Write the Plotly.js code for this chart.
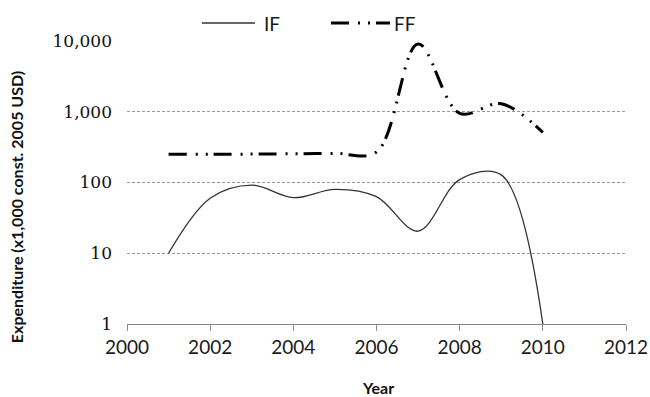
<!DOCTYPE html>
<html>
<head>
<meta charset="utf-8">
<script src="https://cdn.plot.ly/plotly-3.0.1.min.js"></script>
<style>html,body{margin:0;padding:0;background:#fff;}#chart{width:650px;height:397px;}</style>
</head>
<body>
<div id="chart"></div>
<script>
// ---- data ----
var years = [2001, 2002, 2003, 2004, 2005, 2006, 2007, 2008, 2009, 2010];
var ifValues = [10, 60, 92, 61, 80, 63, 20.5, 110, 128, 1];
var ffValues = [250, 250, 252, 255, 258, 270, 9100, 950, 1300, 510];
var seriesNames = ["IF", "FF"];
var yTickVals = [1, 10, 100, 1000, 10000];
var yTickText = ["1", "10", "100", "1,000", "10,000"];
var xTickVals = [2000, 2002, 2004, 2006, 2008, 2010, 2012];
var xTitle = "Year";
var yTitle = "Expenditure (x1,000 const. 2005 USD)";

var ffDash = "18px,9px,2px,8px,2px,6px";

var traces = [
  {x: years, y: ifValues, name: seriesNames[0], type: "scatter", mode: "lines",
   line: {color: "#333333", width: 1.3, shape: "spline", smoothing: 1}},
  {x: years, y: ffValues, name: seriesNames[1], type: "scatter", mode: "lines",
   line: {color: "#000000", width: 3, shape: "spline", smoothing: 1, dash: ffDash}}
];

var tickFont = {family: "Lato, sans-serif", size: 19, color: "#1a1a1a"};
var layout = {
  width: 650, height: 397,
  margin: {l: 127, r: 24, t: 41, b: 73},
  paper_bgcolor: "#fff", plot_bgcolor: "#fff",
  showlegend: false,
  xaxis: {
    range: [2000, 2012], tickvals: xTickVals, ticktext: xTickVals.map(String),
    showgrid: false, zeroline: false, showline: true, linecolor: "#8a8a8a", linewidth: 1,
    ticks: "outside", ticklen: 6, tickcolor: "#8a8a8a", tickfont: tickFont
  },
  yaxis: {
    type: "log", range: [0, 4], tickvals: yTickVals, ticktext: yTickText,
    showgrid: true, gridcolor: "#9a9a9a", gridwidth: 1, griddash: "3px,2px",
    zeroline: false, showline: false, ticks: "", ticklabelstandoff: 14,
    tickfont: {family: "DejaVu Serif, serif", size: 17, color: "#111"}
  },
  shapes: [
    {type: "line", xref: "paper", yref: "paper", x0: 0.150, x1: 0.2565, y0: 1.0636, y1: 1.0636,
     line: {color: "#333333", width: 1.3}},
    {type: "line", xref: "paper", yref: "paper", x0: 0.4088, x1: 0.527, y0: 1.0636, y1: 1.0636,
     line: {color: "#000", width: 3, dash: ffDash}}
  ],
  annotations: [
    {xref: "paper", yref: "paper", x: 0.2705, y: 1.0636, xanchor: "left", yanchor: "middle",
     text: seriesNames[0], showarrow: false, font: tickFont},
    {xref: "paper", yref: "paper", x: 0.531, y: 1.0636, xanchor: "left", yanchor: "middle",
     text: seriesNames[1], showarrow: false, font: tickFont},
    {xref: "paper", yref: "paper", x: -0.2224, y: 0.413, xanchor: "center", yanchor: "middle",
     textangle: -90, text: "<b>" + yTitle + "</b>", showarrow: false,
     font: {family: "Lato, sans-serif", size: 16, color: "#111"}},
    {xref: "paper", yref: "paper", x: 0.503, y: -0.226, xanchor: "center", yanchor: "middle",
     text: "<b>" + xTitle + "</b>", showarrow: false,
     font: {family: "Lato, sans-serif", size: 16, color: "#111"}}
  ]
};

Plotly.newPlot("chart", traces, layout, {staticPlot: true, displayModeBar: false});
</script>
</body>
</html>
